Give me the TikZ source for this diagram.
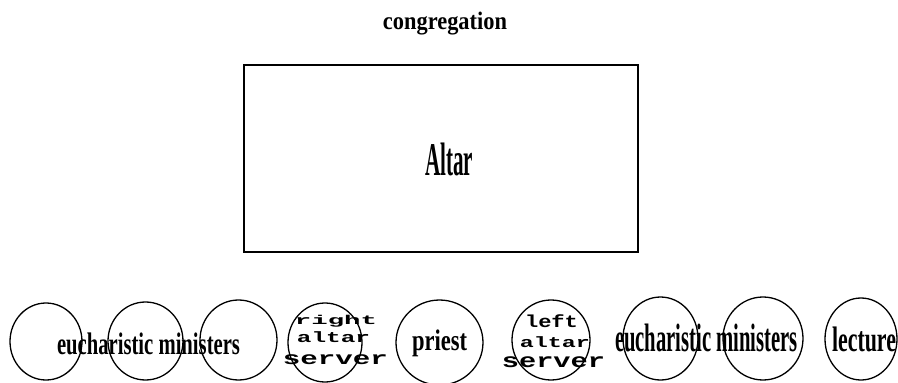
\documentclass[tikz,border=0pt]{standalone}
\usepackage{fontspec}
\setmainfont{Liberation Serif}
\newfontfamily\monofnt{Liberation Mono}
\usetikzlibrary{shapes.geometric}
\newcommand{\fitbox}[3]{\resizebox*{#1pt}{#2pt}{#3}}
\tikzset{
  lbl/.style={inner sep=0pt, outer sep=0pt, font=\bfseries},
  mlbl/.style={inner sep=0pt, outer sep=0pt, font=\monofnt\bfseries},
  ring/.style={draw, ellipse, line width=1.3pt, inner sep=0pt},
  box/.style={draw, rectangle, line width=1.6pt, inner sep=0pt}
}
\begin{document}
\begin{tikzpicture}[x=1pt, y=-1pt]
\useasboundingbox (0,0) rectangle (898,383);
\node[lbl] (cong) at (445,23.5) {\fitbox{124}{23}{congregation}};
\node[box, minimum width=394pt, minimum height=187pt] (altarbox) at (441,158.5) {};
\node[lbl] (altar) at (449,159.5) {\fitbox{48}{33}{Altar}};
% circles
\node[ring, minimum width=72pt, minimum height=77pt] (c1) at (46,341.5) {};
\node[ring, minimum width=75pt, minimum height=78pt] (c2) at (145.5,341) {};
\node[ring, minimum width=77pt, minimum height=80pt] (c3) at (238.5,340) {};
\node[ring, minimum width=74pt, minimum height=79pt] (c4) at (325,342.5) {};
\node[ring, minimum width=87pt, minimum height=85pt] (c5) at (439.5,342.5) {};
\node[ring, minimum width=78pt, minimum height=80pt] (c6) at (551,340) {};
\node[ring, minimum width=75pt, minimum height=83pt] (c7) at (660.5,338.5) {};
\node[ring, minimum width=80pt, minimum height=83pt] (c8) at (763,338.5) {};
\node[ring, minimum width=72pt, minimum height=82pt] (c9) at (861,339) {};
% labels
\node[lbl] (em1) at (148.5,344) {\fitbox{183}{22}{eucharistic ministers}};
\node[lbl] (em2) at (706.5,337.5) {\fitbox{183}{28}{eucharistic ministers}};
\node[lbl] (priest) at (439.5,343.5) {\fitbox{55}{27}{priest}};
\node[lbl] (lect) at (864,339.5) {\fitbox{64}{25}{lecture}};
\node[mlbl] (ras1) at (336,321) {\fitbox{82}{12}{right}};
\node[mlbl] (ras2) at (333.5,337.5) {\fitbox{73}{11}{altar}};
\node[mlbl] (ras3) at (335.5,360) {\fitbox{105}{10}{server}};
\node[mlbl] (las1) at (551.5,321.5) {\fitbox{53}{13}{left}};
\node[mlbl] (las2) at (555,342.5) {\fitbox{70}{11}{altar}};
\node[mlbl] (las3) at (553.5,362.5) {\fitbox{103}{11}{server}};
\end{tikzpicture}
\end{document}
